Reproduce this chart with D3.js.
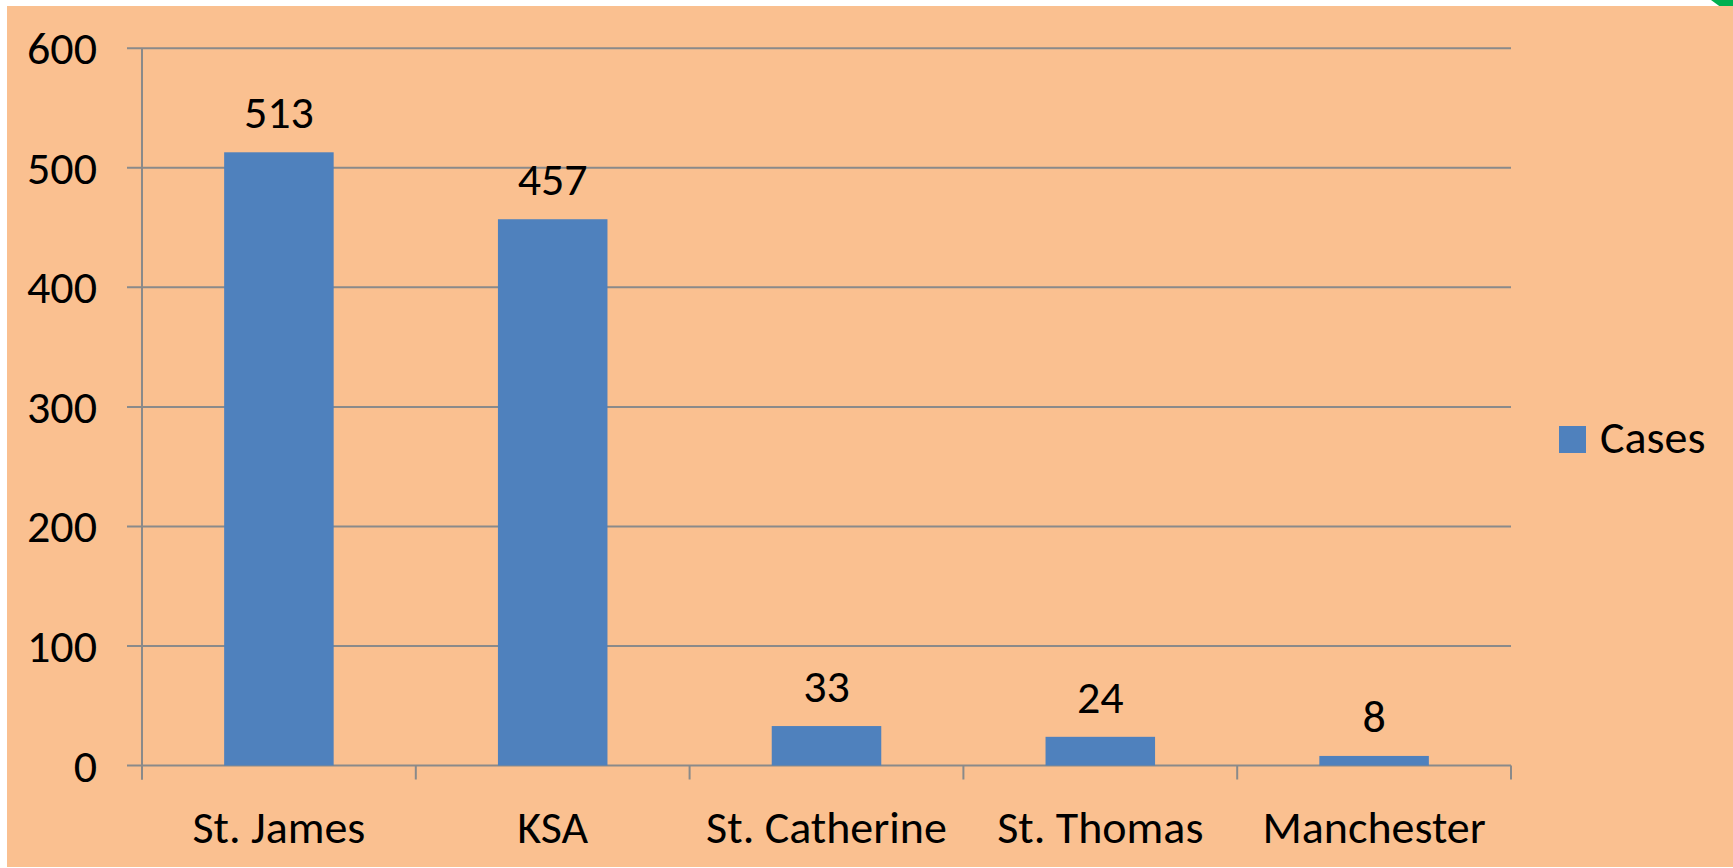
<!DOCTYPE html>
<html>
<head>
<meta charset="utf-8">
<script src="https://cdnjs.cloudflare.com/ajax/libs/d3/7.8.5/d3.min.js"></script>
<style>
  html, body { margin: 0; padding: 0; background: #fff; overflow: hidden; }
  text { font-family: Carlito, Calibri, Lato, "Open Sans", sans-serif; fill: #000; }
</style>
</head>
<body>
<svg id="svg"></svg>
<script>
    var w = 1733;
    var h = 868;

    // chart data
    var parishes = ["St. James", "KSA", "St. Catherine", "St. Thomas", "Manchester"];
    var cases = [513, 457, 33, 24, 8];
    var yTicks = [0, 100, 200, 300, 400, 500, 600];
    var seriesName = "Cases";

    var plotL = 142, plotR = 1511, plotT = 48.3, plotB = 765.5;
    var fs = 46;

    var svg = d3.select("#svg")
            .attr("width", w)
            .attr("height", h);

    // little green corner from the slide behind
    svg.append("polygon")
        .attr("points", "1711,0 1733,0 1733,8 1722,8")
        .attr("fill", "#00B050");

    svg.append("rect")
        .attr("x", 7)
        .attr("y", 6)
        .attr("width", w - 7)
        .attr("height", h - 7)
        .attr("fill", "#FAC090");

    var x = d3.scaleBand()
        .domain(parishes)
        .range([plotL, plotR])
        .paddingInner(0.6)
        .paddingOuter(0.3);

    var y = d3.scaleLinear()
        .domain([0, 600])
        .range([plotB, plotT]);

    var chart = svg.append("g");

    // gridlines + y labels
    chart.selectAll("line.grid")
        .data(yTicks)
        .enter().append("line")
        .attr("class", "grid")
        .attr("x1", plotL - 15)
        .attr("x2", plotR)
        .attr("y1", function(d) { return y(d) })
        .attr("y2", function(d) { return y(d) })
        .attr("stroke", "#8A8A8A")
        .attr("stroke-width", 2);

    chart.selectAll("text.ylab")
        .data(yTicks)
        .enter().append("text")
        .attr("class", "ylab")
        .attr("x", 97)
        .attr("y", function(d) { return y(d) + 16 })
        .attr("text-anchor", "end")
        .attr("font-size", fs)
        .text(function(d) { return d });

    // y axis line
    chart.append("line")
        .attr("x1", plotL).attr("x2", plotL)
        .attr("y1", plotT).attr("y2", plotB + 14)
        .attr("stroke", "#8A8A8A")
        .attr("stroke-width", 2);

    // category ticks
    var tickXs = d3.range(parishes.length + 1).map(function(i) { return plotL + i * x.step() });
    chart.selectAll("line.xtick")
        .data(tickXs)
        .enter().append("line")
        .attr("class", "xtick")
        .attr("x1", function(d) { return d })
        .attr("x2", function(d) { return d })
        .attr("y1", plotB)
        .attr("y2", plotB + 14)
        .attr("stroke", "#8A8A8A")
        .attr("stroke-width", 2);

    // bars
    chart.selectAll("rect.bar")
        .data(cases)
        .enter().append("rect")
        .attr("class", "bar")
        .attr("x", function(d, i) { return x(parishes[i]) })
        .attr("width", x.bandwidth())
        .attr("y", function(d) { return y(d) })
        .attr("height", function(d) { return plotB - y(d) })
        .attr("fill", "#4F81BD");

    chart.selectAll("text.val")
        .data(cases)
        .enter().append("text")
        .attr("class", "val")
        .attr("x", function(d, i) { return x(parishes[i]) + x.bandwidth() / 2 })
        .attr("y", function(d) { return y(d) - 24 })
        .attr("text-anchor", "middle")
        .attr("font-size", fs)
        .text(function(d) { return d });

    chart.selectAll("text.xlab")
        .data(parishes)
        .enter().append("text")
        .attr("class", "xlab")
        .attr("x", function(d) { return x(d) + x.bandwidth() / 2 })
        .attr("y", 843)
        .attr("text-anchor", "middle")
        .attr("font-size", fs)
        .text(function(d) { return d });

    // legend
    var legend = svg.append("g").attr("transform", "translate(1559,426)");
    legend.append("rect")
        .attr("width", 27)
        .attr("height", 27)
        .attr("fill", "#4F81BD");
    legend.append("text")
        .attr("x", 41)
        .attr("y", 27)
        .attr("font-size", fs)
        .text(seriesName);
</script>
</body>
</html>
